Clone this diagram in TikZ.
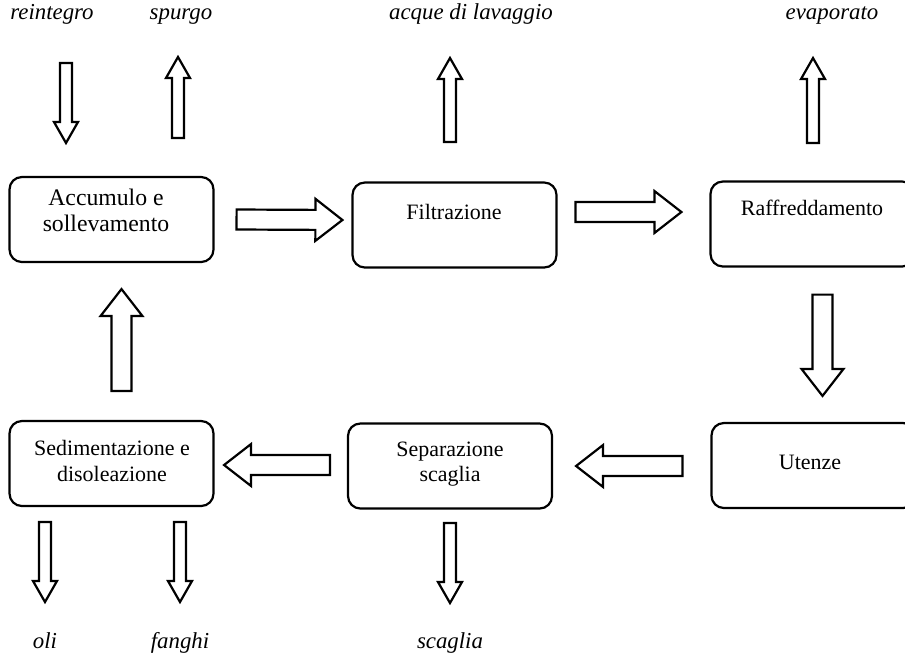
\documentclass[tikz,border=0pt]{standalone}
\usepackage{fontspec}
\setmainfont{Liberation Serif}
\usetikzlibrary{calc}
\tikzset{
  box/.style={draw,line width=1.25pt,rounded corners=7pt,minimum width=4.08cm,minimum height=1.7cm,inner sep=0pt},
  boxtext/.style={align=center,font=\fontsize{12.5}{14.5}\selectfont},
  flowtext/.style={anchor=base,font=\fontsize{13}{15}\selectfont\itshape},
  flowline/.style={draw,line width=1.25pt,line join=miter}
}
\newcommand{\blockarrow}[5]{%
  \coordinate (ba-h) at ($(#5)!#3!(#4)$);
  \draw[flowline] ($(#4)!#1!90:(#5)$) -- ($(ba-h)!#1!-90:(#4)$) -- ($(ba-h)!#2!-90:(#4)$)
    -- (#5) -- ($(ba-h)!#2!90:(#4)$) -- ($(ba-h)!#1!90:(#4)$) -- ($(#4)!#1!-90:(#5)$) -- cycle;
}
\newcommand{\bigarrow}[2]{\blockarrow{0.2cm}{0.42cm}{0.54cm}{#1}{#2}}
\newcommand{\smallarrow}[2]{\blockarrow{0.12cm}{0.24cm}{0.42cm}{#1}{#2}}
\begin{document}
\begin{tikzpicture}[x=0.02cm,y=-0.02cm]
  \clip (0,0) rectangle (905,653);
  \node[box] (acc) at (111.5,219.5) {};
  \node[box] (fil) at (454.5,225) {};
  \node[box] (raf) at (812.5,224) {};
  \node[box] (sed) at (111.5,463.5) {};
  \node[box] (sep) at (450,466) {};
  \node[box] (ute) at (813.5,465.5) {};
  \node[boxtext,font=\fontsize{13.5}{15}\selectfont] (acc-t) at (106,210.5) {Accumulo e\\sollevamento};
  \node[boxtext] (fil-t) at (454,212) {Filtrazione};
  \node[boxtext] (raf-t) at (812,208) {Raffreddamento};
  \node[boxtext] (sed-t) at (112,461) {Sedimentazione e\\disoleazione};
  \node[boxtext] (sep-t) at (450,464) {Separazione\\scaglia};
  \node[boxtext] (ute-t) at (810,462) {Utenze};

  \node[flowtext] (rei) at (52,19) {reintegro};
  \node[flowtext] (spu) at (181,19) {spurgo};
  \node[flowtext] (acq) at (471,19) {acque di lavaggio};
  \node[flowtext] (eva) at (832,19) {evaporato};
  \node[flowtext] (oli) at (45,648) {oli};
  \node[flowtext] (fan) at (180,648) {fanghi};
  \node[flowtext] (sca) at (450,648) {scaglia};

  \coordinate (af-a) at ($(acc.east)+(22,0)$);
  \coordinate (af-b) at ($(fil.west)+(-9,-5)$);
  \coordinate (fr-a) at ($(fil.east)+(18,-13)$);
  \coordinate (fr-b) at ($(raf.west)+(-28,-12)$);
  \coordinate (ru-a) at ($(raf.south)+(10,27)$);
  \coordinate (ru-b) at ($(ute.north)+(9,-26)$);
  \coordinate (us-a) at ($(ute.west)+(-28,0.5)$);
  \coordinate (us-b) at ($(sep.east)+(23,0)$);
  \coordinate (ss-a) at ($(sep.west)+(-17,-1)$);
  \coordinate (ss-b) at ($(sed.east)+(9.5,1.5)$);
  \coordinate (sa-a) at ($(sed.north)+(10,-29)$);
  \coordinate (sa-b) at ($(acc.south)+(10,26)$);
  \bigarrow{af-a}{af-b}
  \bigarrow{fr-a}{fr-b}
  \bigarrow{ru-a}{ru-b}
  \bigarrow{us-a}{us-b}
  \bigarrow{ss-a}{ss-b}
  \bigarrow{sa-a}{sa-b}

  \coordinate (rei-a) at (66,63);
  \coordinate (rei-b) at (66,143);
  \coordinate (spu-a) at (178,138);
  \coordinate (spu-b) at (178,57);
  \coordinate (acq-a) at (450,142);
  \coordinate (acq-b) at (450,58);
  \coordinate (eva-a) at (813,143);
  \coordinate (eva-b) at (813,58);
  \coordinate (oli-a) at (45,522);
  \coordinate (oli-b) at (45,602);
  \coordinate (fan-a) at (180,522);
  \coordinate (fan-b) at (180,602);
  \coordinate (sca-a) at (450,523);
  \coordinate (sca-b) at (450,603);
  \smallarrow{rei-a}{rei-b}
  \smallarrow{spu-a}{spu-b}
  \smallarrow{acq-a}{acq-b}
  \smallarrow{eva-a}{eva-b}
  \smallarrow{oli-a}{oli-b}
  \smallarrow{fan-a}{fan-b}
  \smallarrow{sca-a}{sca-b}
\end{tikzpicture}
\end{document}
